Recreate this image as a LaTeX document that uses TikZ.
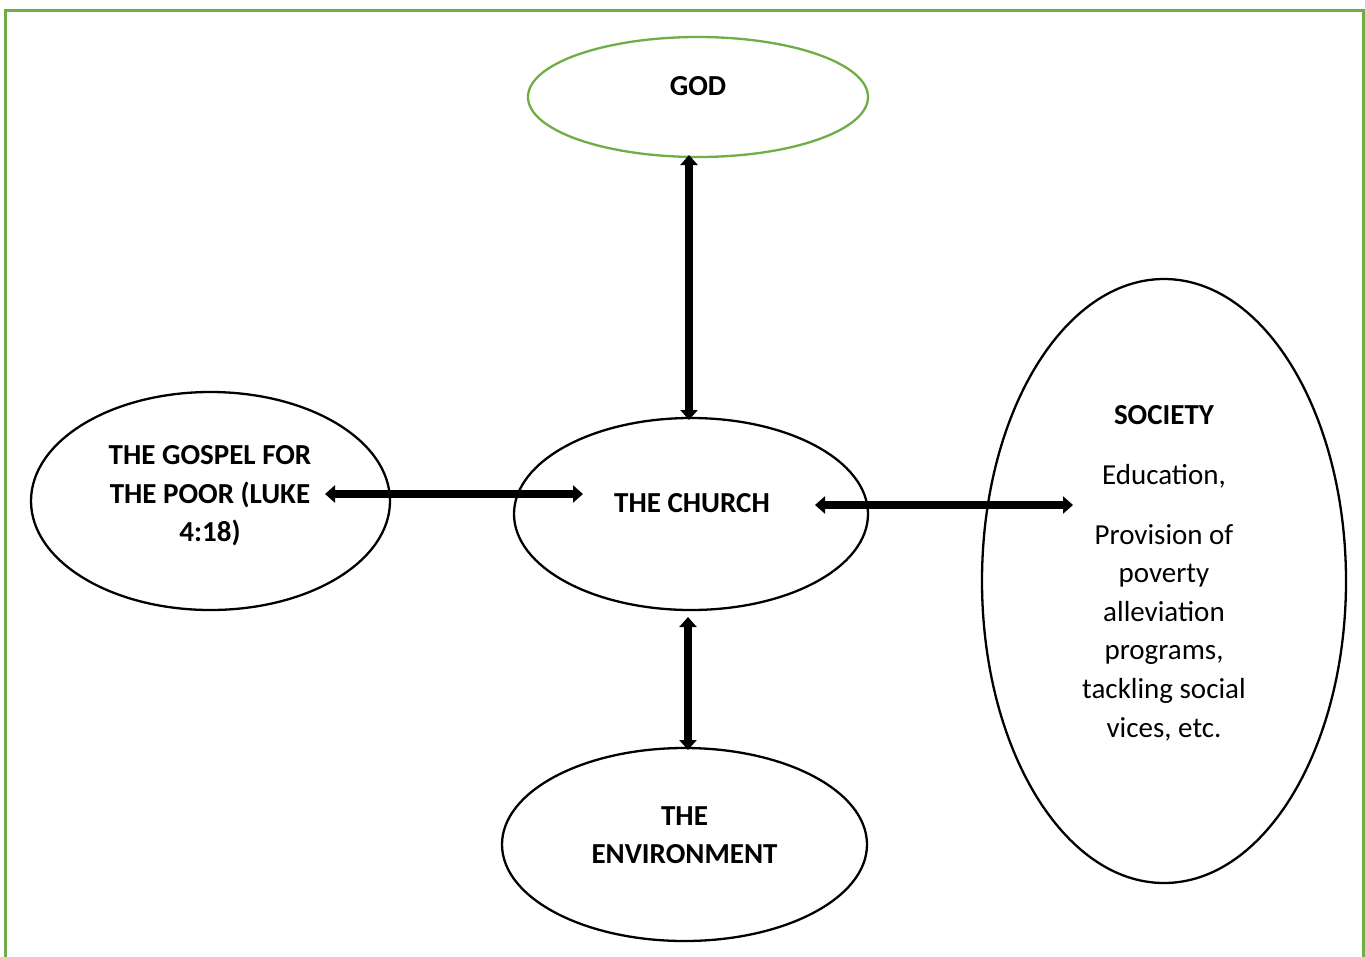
\documentclass[tikz,border=0pt]{standalone}
\usepackage{fontspec}
\setmainfont{Carlito}
\usetikzlibrary{shapes.geometric,arrows.meta}
\definecolor{frameGreen}{HTML}{70AD47}
\tikzset{
  oval/.style={draw=black, line width=2.3pt, ellipse, inner sep=0pt},
  greenoval/.style={draw=frameGreen, line width=2.3pt, ellipse, inner sep=0pt},
  label text/.style={align=center, inner sep=0pt, font=\fontsize{29}{38.6}\selectfont},
  biarrow/.style={line width=7.5pt, {Triangle[length=10pt,width=17pt]}-{Triangle[length=10pt,width=17pt]}},
  frame/.style={draw=frameGreen, line width=3pt}
}
\begin{document}
\begin{tikzpicture}[x=1pt,y=-1pt]
\useasboundingbox (0,0) rectangle (1365,956);
% frame
\coordinate (fbl) at (5.5,960);
\coordinate (ftl) at (5.5,10.5);
\coordinate (ftr) at (1363.5,10.5);
\coordinate (fbr) at (1363.5,960);
\draw[frame] (fbl) -- (ftl) -- (ftr) -- (fbr);
% ellipses
\node[greenoval, minimum width=340pt, minimum height=120pt] (god) at (698,97) {};
\node[oval, minimum width=359pt, minimum height=218pt] (gospel) at (210.5,501) {};
\node[oval, minimum width=354pt, minimum height=192pt] (church) at (691,514) {};
\node[oval, minimum width=364pt, minimum height=604pt] (society) at (1164,581) {};
\node[oval, minimum width=365pt, minimum height=193pt] (env) at (684.5,844.5) {};
% texts
\node[label text] (godtext) at (698,86) {\bfseries GOD};
\node[label text] (churchtext) at (692,503) {\bfseries THE CHURCH};
\node[label text] (gospeltext) at (210,496) {\bfseries THE GOSPEL FOR\\ \bfseries THE POOR (LUKE\\ \bfseries 4:18)};
\node[label text] (envtext) at (684.5,835) {\bfseries THE\\ \bfseries ENVIRONMENT};
\node[label text] (societytext) at (1164,573) {\bfseries SOCIETY\\[21.4pt] Education,\\[21.4pt] Provision of\\ poverty\\ alleviation\\ programs,\\ tackling social\\ vices, etc.};
% arrow end points
\coordinate (godend) at (689,155);
\coordinate (churchtop) at (689,420);
\coordinate (gospelend) at (325,494);
\coordinate (churchleft) at (583,494);
\coordinate (churchright) at (815,505);
\coordinate (societyend) at (1073,505);
\coordinate (churchbottom) at (688,617);
\coordinate (envend) at (688,750);
% arrows
\draw[biarrow] (godend) -- (churchtop);
\draw[biarrow] (gospelend) -- (churchleft);
\draw[biarrow] (churchright) -- (societyend);
\draw[biarrow] (churchbottom) -- (envend);
\end{tikzpicture}
\end{document}
